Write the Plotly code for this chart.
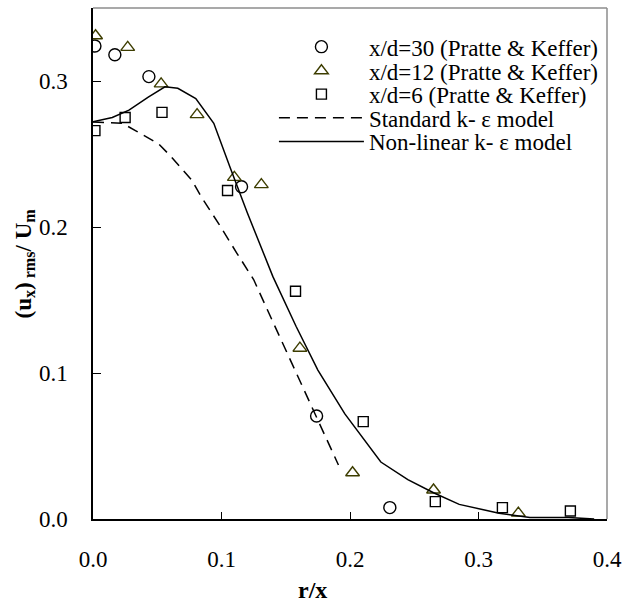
import plotly.graph_objects as go

# x/d = 30 (Pratte & Keffer) - circles
r30 = [0.0015, 0.017, 0.0435, 0.1156, 0.174, 0.231]
u30 = [0.324, 0.318, 0.303, 0.2276, 0.0705, 0.0078]

# x/d = 12 (Pratte & Keffer) - triangles
r12 = [0.002, 0.027, 0.053, 0.081, 0.110, 0.131, 0.161, 0.202, 0.265, 0.331]
u12 = [0.331, 0.323, 0.298, 0.277, 0.234, 0.229, 0.117, 0.0317, 0.0199, 0.004]

# x/d = 6 (Pratte & Keffer) - squares
r6 = [0.0015, 0.025, 0.0537, 0.1047, 0.1576, 0.2103, 0.2664, 0.3186, 0.3715]
u6 = [0.266, 0.275, 0.2785, 0.225, 0.156, 0.0667, 0.0119, 0.0078, 0.0055]

# Standard k-epsilon model (dashed)
r_std = [0.0, 0.023, 0.033, 0.051, 0.061, 0.077, 0.084, 0.098, 0.112, 0.125, 0.14, 0.16, 0.175, 0.191]
u_std = [0.272, 0.271, 0.266, 0.257, 0.248, 0.232, 0.221, 0.202, 0.182, 0.164, 0.135, 0.097, 0.068, 0.037]

# Non-linear k-epsilon model (solid)
r_nl = [0.0, 0.015, 0.028, 0.043, 0.056, 0.066, 0.080, 0.094, 0.107, 0.120, 0.140, 0.158,
        0.175, 0.196, 0.224, 0.245, 0.265, 0.285, 0.316, 0.340, 0.370, 0.390]
u_nl = [0.272, 0.275, 0.280, 0.289, 0.296, 0.295, 0.288, 0.271, 0.240, 0.210, 0.166, 0.132,
        0.102, 0.072, 0.039, 0.027, 0.018, 0.010, 0.004, 0.001, 0.001, 0.0]

x_ticks = [0.0, 0.1, 0.2, 0.3, 0.4]
x_ticklabels = ["0.0", "0.1", "0.2", "0.3", "0.4"]
y_ticks = [0.0, 0.1, 0.2, 0.3]
y_ticklabels = ["0.0", "0.1", "0.2", "0.3"]

FONT = "Liberation Serif"
FS = 23
OLIVE = "#3d3d00"

fig = go.Figure()
fig.add_trace(go.Scatter(x=r30, y=u30, mode="markers", name="x/d=30 (Pratte & Keffer)",
                         legend="legend",
                         marker=dict(symbol="circle-open", size=12, color="black",
                                     line=dict(width=1.4, color="black"))))
fig.add_trace(go.Scatter(x=r12, y=u12, mode="markers", name="x/d=12 (Pratte & Keffer)",
                         legend="legend2",
                         marker=dict(symbol="triangle-up-open", size=12, color=OLIVE,
                                     line=dict(width=1.4, color=OLIVE))))
fig.add_trace(go.Scatter(x=r6, y=u6, mode="markers", name="x/d=6 (Pratte & Keffer)",
                         legend="legend3",
                         marker=dict(symbol="square-open", size=10, color="black",
                                     line=dict(width=1.4, color="black"))))
fig.add_trace(go.Scatter(x=r_std, y=u_std, mode="lines", name="Standard k- \u03b5 model",
                         legend="legend4",
                         line=dict(color="black", width=1.5, dash="11px,7px")))
fig.add_trace(go.Scatter(x=r_nl, y=u_nl, mode="lines", name="Non-linear k- \u03b5 model",
                         legend="legend5",
                         line=dict(color="black", width=1.5)))

# legend row centres (pixels from top of the figure) -> paper coordinates
plot_top, plot_bottom = 8, 519
row_px = [46.7, 70.8, 94.2, 117.9, 141.5]


def leg(ypx):
    return dict(x=0.352, y=(plot_bottom - ypx) / (plot_bottom - plot_top),
                xanchor="left", yanchor="middle",
                bgcolor="rgba(0,0,0,0)", borderwidth=0,
                font=dict(family=FONT, size=FS, color="black"),
                itemwidth=85, tracegroupgap=0)


fig.update_layout(
    width=630, height=603,
    margin=dict(l=93, r=14, t=8, b=84),
    paper_bgcolor="white", plot_bgcolor="white",
    font=dict(family=FONT, size=FS, color="black"),
    showlegend=True,
    legend=leg(row_px[0]), legend2=leg(row_px[1]), legend3=leg(row_px[2]),
    legend4=leg(row_px[3]), legend5=leg(row_px[4]),
    xaxis=dict(range=[0, 0.4], tickmode="array", tickvals=x_ticks, ticktext=x_ticklabels,
               ticks="inside", ticklen=7, tickwidth=1, tickcolor="black",
               showline=True, linecolor="black", linewidth=1.5, showgrid=False, zeroline=False,
               ticklabelstandoff=19, ticklabeloverflow="allow",
               tickfont=dict(family=FONT, size=FS, color="black")),
    yaxis=dict(range=[0, 0.35], tickmode="array", tickvals=y_ticks, ticktext=y_ticklabels,
               ticks="inside", ticklen=8, tickwidth=1, tickcolor="black",
               showline=True, linecolor="black", linewidth=1.5, showgrid=False, zeroline=False,
               ticklabelstandoff=19, ticklabeloverflow="allow",
               tickfont=dict(family=FONT, size=FS, color="black")),
    shapes=[
        dict(type="line", xref="paper", yref="paper", x0=0, x1=1, y0=1, y1=1,
             line=dict(color="#8c8c8c", width=1.5)),
        dict(type="line", xref="paper", yref="paper", x0=1, x1=1, y0=0, y1=1,
             line=dict(color="#8c8c8c", width=1.5)),
    ],
    annotations=[
        dict(text="<b>r/x</b>", xref="paper", yref="paper", x=0.4275, y=0,
             xanchor="center", yanchor="middle", yshift=-71, showarrow=False,
             font=dict(family=FONT, size=24, color="black")),
        dict(text="<b>(u<sub>x</sub>)<sub> rms</sub>/ U<sub>m</sub></b>", xref="paper", yref="paper",
             x=0, y=0.5, xanchor="center", yanchor="middle", xshift=-69, textangle=-90,
             showarrow=False, font=dict(family=FONT, size=23, color="black")),
    ],
)

fig.write_html("out.html")
